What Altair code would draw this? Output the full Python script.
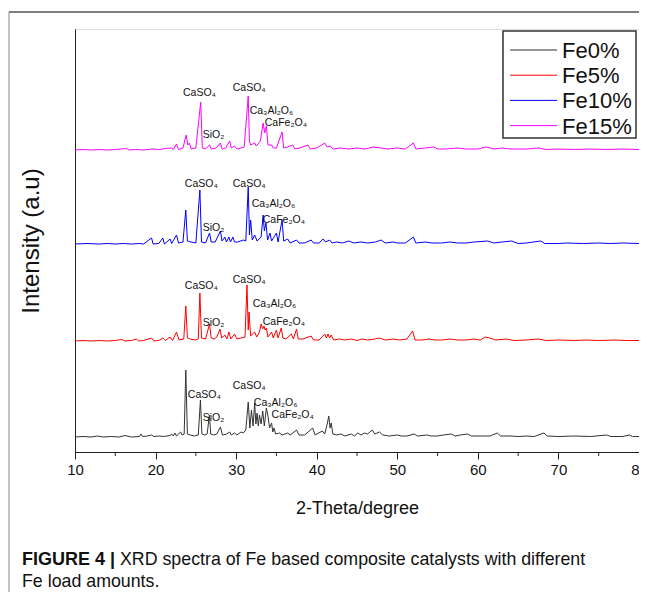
import altair as alt
import pandas as pd

# ---------------- data ----------------
series_names = ["Fe0%", "Fe5%", "Fe10%", "Fe15%"]
series_colors = ["#333333", "#ff0000", "#0000ff", "#ff00ff"]
offsets = [14, 110, 207, 301]

fe0_x = [10.0, 11, 12, 12.8, 13.5, 14.5, 15.5, 16.2, 17, 18.0, 18.2, 18.4, 19.0, 19.5, 19.8, 20.5, 21.0, 21.8, 22.0, 22.2,
         22.4, 22.6, 23.1, 23.3, 23.55, 23.75, 23.95, 24.3, 24.8, 25.3, 25.57, 25.75, 26.1, 26.4, 26.68, 26.85, 27.2, 27.6,
         28.05, 28.3, 28.8, 29.2, 29.4, 29.8, 30.1, 30.6, 30.9, 31.2, 31.5, 31.7, 31.9, 32.1, 32.3, 32.45, 32.6, 32.75, 32.9,
         33.1, 33.3, 33.5, 33.75, 33.95, 34.15, 34.4, 34.55, 34.7, 34.9, 35.4, 35.7, 36.4, 36.7, 37.5, 37.8, 38.5, 39.5, 39.8,
         40.7, 41.0, 41.3, 41.5, 41.65, 41.8, 42.0, 42.5, 43.0, 43.5, 44.3, 44.7, 45.1, 45.5, 45.9, 46.3, 46.9, 47.2, 47.8,
         48.2, 49.0, 50.0, 50.5, 51.2, 52.1, 52.5, 53.7, 54.2, 55.0, 55.7, 56.7, 57.2, 57.8, 58.7, 59.2, 60, 60.8, 61.5, 62.4,
         62.8, 64, 65, 66, 67, 68.2, 68.6, 70, 72, 74, 76.0, 76.5, 78, 78.8, 79.2, 80]
fe0_y = [1, 1.5, 1, 2, 1, 1.5, 1, 2.5, 1, 1.5, 4, 1.5, 2, 3, 1.5, 2, 1.5, 2.5, 4, 2,
         5, 2, 6, 3, 4, 68, 4, 3, 2, 3, 38, 4, 3, 4, 23, 4, 3, 4,
         11, 3, 4, 6, 3, 5, 3, 6, 5, 8, 36, 10, 28, 12, 35, 14, 25, 12, 23,
         14, 27, 12, 30, 22, 10, 15, 6, 10, 4, 5, 3, 5, 3, 8, 3, 3, 10, 3,
         7, 4, 14, 22, 10, 15, 4, 3, 4, 2, 4, 2, 5, 3, 5, 4, 8, 4, 6,
         3, 2, 3, 2, 2, 4, 2, 3, 2, 2, 3, 4, 2, 3, 4, 2, 2, 2, 2, 5,
         2, 2, 1.5, 2, 1.5, 5, 2, 1.5, 2, 1.5, 3, 1.5, 1.5, 3, 1.5, 1.5]

fe5_x = [10, 11, 12, 13, 14, 15, 15.8, 16.2, 17, 17.6, 17.9, 18.5, 19.5, 19.8, 20.4, 20.9, 21.2, 21.8, 22.1, 22.6, 22.9,
         23.5, 23.75, 23.95, 24.3, 24.9, 25.3, 25.5, 25.7, 26.2, 26.7, 26.9, 27.3, 27.6, 28.0, 28.2, 28.6, 28.85, 29.1,
         29.35, 29.8, 30.1, 30.6, 31.1, 31.35, 31.5, 31.6, 31.8, 32.3, 32.55, 32.9, 33.1, 33.3, 33.45, 33.6, 33.75, 33.95,
         34.4, 34.6, 35.0, 35.2, 35.6, 35.8, 36.2, 36.85, 37.1, 37.5, 37.7, 38.3, 39.3, 39.6, 40.3, 41.0, 41.2, 41.4, 41.6,
         41.8, 42.1, 42.8, 43.5, 44.3, 45, 45.6, 46.3, 47.2, 47.8, 48.5, 49.5, 50.3, 51.2, 51.9, 52.2, 53, 54, 54.6, 55.5,
         56.5, 57.5, 58.5, 59.5, 60.3, 60.9, 61.5, 62.2, 63.5, 64.5, 66, 67.5, 68.5, 70, 72, 73.5, 75, 77, 78.5, 80]
fe5_y = [1, 1.5, 1, 1.5, 1, 1.5, 2.5, 1, 1.5, 3, 1, 1.5, 4, 1, 1.5, 4, 1.5, 5, 1.5, 10, 2,
         3, 36, 4, 3, 2, 3, 49, 4, 3, 18, 4, 3, 5, 13, 4, 7, 3, 10,
         3, 8, 3, 4, 5, 57, 12, 30, 6, 10, 5, 10, 18, 13, 16, 12, 14, 5,
         10, 4, 12, 4, 14, 4, 3, 8, 3, 13, 3, 3, 6, 2, 2, 8, 4, 8, 4,
         7, 2, 3, 2, 3, 1.5, 3, 2, 3, 4, 2, 3, 2, 3, 11, 2, 2, 3, 2, 2,
         3, 2, 2, 3, 2, 5, 4, 2, 3, 1.5, 2, 3, 1.5, 2, 1.5, 2, 1.5, 2, 1.5, 1.5]

fe10_x = [10, 11.5, 13, 14, 15, 16, 17, 18, 18.5, 19.5, 19.7, 20.4, 20.9, 21.1, 21.8, 22.0, 22.6, 22.85, 23.4, 23.75, 23.95,
          24.4, 25.0, 25.5, 25.7, 26.2, 26.7, 26.9, 27.4, 28.05, 28.25, 28.6, 28.8, 29.1, 29.3, 29.6, 29.8, 30.2, 30.9, 31.2,
          31.5, 31.65, 31.8, 32.0, 32.3, 32.6, 33.1, 33.35, 33.5, 33.7, 33.9, 34.2, 34.4, 35.0, 35.2, 35.7, 35.9, 36.4, 36.7,
          37.5, 37.8, 38.5, 39.3, 39.6, 40.3, 40.8, 41.1, 41.6, 41.9, 42.5, 43.2, 44, 44.6, 45.5, 46.3, 47.3, 48.0, 48.5,
          49.5, 50.0, 51, 52.0, 52.3, 53.5, 54.3, 55.5, 56.5, 57.5, 58.5, 59.5, 61.2, 62, 63, 64.2, 65, 66, 67.8, 68.3, 70,
          71, 73, 75, 76.5, 78, 80]
fe10_y = [1, 1.5, 1, 1.5, 1, 1.5, 1, 1.5, 1, 7, 1, 1.5, 7, 1, 6, 1.5, 10, 2, 3, 35, 4,
          3, 2, 55, 3, 2, 12, 3, 3, 14, 4, 8, 3, 8, 3, 8, 3, 3, 5, 4,
          58, 10, 25, 5, 10, 4, 8, 30, 14, 22, 5, 12, 4, 12, 3, 25, 4, 6, 2,
          5, 2, 2, 5, 2, 2, 6, 3, 5, 2, 3, 2, 4, 2, 3, 2, 3, 5, 2,
          3, 2, 2, 8, 2, 3, 2, 2, 3, 2, 2, 3, 4, 2, 3, 4, 1.5, 2, 4, 1.5, 1.5,
          2, 1.5, 2, 1.5, 2, 1.5]

fe15_x = [10, 11, 12, 13, 14, 15, 16.4, 16.7, 17.5, 18.5, 19.5, 20.5, 21.2, 22.0, 22.2, 22.6, 22.85, 23.4, 23.8, 24.0,
          24.2, 24.4, 25.0, 25.6, 25.8, 26.2, 26.7, 26.9, 27.5, 28.05, 28.25, 28.7, 29.2, 29.4, 29.8, 30.1, 30.6, 31.0,
          31.5, 31.65, 31.8, 32.3, 32.5, 33.0, 33.35, 33.55, 33.75, 33.95, 34.4, 34.6, 35.0, 35.7, 35.9, 36.4, 37.0, 37.3,
          37.9, 38.9, 39.2, 40.0, 41.0, 41.3, 41.7, 42, 43, 44, 45, 46, 47, 48, 48.8, 50, 51, 52, 52.3, 53.5, 54.5, 55,
          56, 57.5, 58.5, 60, 61, 61.5, 62, 63, 64, 66, 67.5, 68.5, 70, 72, 74, 76, 78, 80]
fe15_y = [1, 1.5, 1, 1.5, 1, 1.5, 2.5, 1, 1.5, 1, 2, 1.5, 2.5, 3, 1.5, 7, 1.5, 3, 16, 6,
          8, 2, 3, 49, 3, 2, 6, 2, 3, 8, 2, 3, 10, 3, 5, 2, 3, 4,
          55, 10, 6, 8, 5, 10, 28, 18, 25, 6, 6, 3, 3, 19, 3, 4, 6, 2,
          3, 6, 2, 3, 8, 4, 5, 2, 3, 2, 3, 2, 4, 3, 2, 3, 2, 8, 2, 3, 4, 2,
          2, 3, 2, 2, 4, 3, 2, 3, 2, 2, 3, 1.5, 2, 1.5, 2, 1.5, 2, 1.5]

# peak annotations: label, 2-theta of left edge, vertical position (a.u.)
ann_text = ["CaSO₄", "SiO₂", "CaSO₄", "Ca₃Al₂O₆", "CaFe₂O₄"] * 4
ann_x = [23.4, 25.86, 29.58, 31.68, 33.55,
         23.63, 25.86, 29.58, 31.93, 33.3,
         23.63, 25.86, 29.58, 32.06, 33.3,
         24.0, 25.86, 29.58, 32.2, 34.4]
ann_y = [359, 317, 364, 341, 329,
         268, 224, 268, 248, 232,
         166, 129, 172, 148, 130,
         57, 34, 66, 49, 37]

major_ticks = [10, 20, 30, 40, 50, 60, 70, 80]
minor_ticks = [15, 25, 35, 45, 55, 65, 75]

x_title = "2-Theta/degree"
y_title = "Intensity (a.u)"
caption_bold = "FIGURE 4"
caption_bar = "|"
caption_line1 = "XRD spectra of Fe based composite catalysts with different"
caption_line2 = "Fe load amounts."

# ---------------- build table ----------------
xs = [fe0_x, fe5_x, fe10_x, fe15_x]
ys = [fe0_y, fe5_y, fe10_y, fe15_y]
rows = []
for name, off, sx, sy in zip(series_names, offsets, xs, ys):
    for a, b in zip(sx, sy):
        rows.append({"theta": a, "intensity": b + off, "series": name})
df = pd.DataFrame(rows)
ann = pd.DataFrame({"text": ann_text, "theta": ann_x, "pos": ann_y})
minor = pd.DataFrame({"t": minor_ticks})

W, H = 564, 423
PAD_L, PAD_T, PAD_R, PAD_B = 67, 21, 0, 140
SANS = "Liberation Sans"

xscale = alt.Scale(domain=[10, 80], nice=False, zero=False)
yscale = alt.Scale(domain=[0, 423], nice=False, zero=False)
cscale = alt.Scale(domain=series_names, range=series_colors)

lines = alt.Chart(df).mark_line(strokeWidth=1, clip=True).encode(
    x=alt.X("theta:Q", scale=xscale,
            axis=alt.Axis(values=major_ticks, title=x_title, grid=False, tickSize=7,
                          labelFontSize=15, labelFont=SANS, labelPadding=3, labelFlush=False,
                          titleFont=SANS, titleFontSize=18, titleFontWeight="normal",
                          titlePadding=22, domainColor="#222", tickColor="#222",
                          labelColor="#111", titleColor="#111", format="d")),
    y=alt.Y("intensity:Q", scale=yscale,
            axis=alt.Axis(title=y_title, labels=False, ticks=False, grid=False,
                          titleFont=SANS, titleFontSize=24, titleFontWeight="normal",
                          titlePadding=32, domainColor="#222", titleColor="#111")),
    color=alt.Color("series:N", scale=cscale, legend=None),
    detail="series:N",
    order="theta:Q",
)

labels = alt.Chart(ann).mark_text(align="left", baseline="middle", fontSize=10.5,
                                  font=SANS, color="#111").encode(
    x=alt.X("theta:Q", scale=xscale), y=alt.Y("pos:Q", scale=yscale), text="text:N")

minor_rules = alt.Chart(minor).mark_rule(color="#222", strokeWidth=1).encode(
    x=alt.X("t:Q", scale=xscale), y=alt.value(H), y2=alt.value(H + 4))

one = alt.Data(values=[{"a": 1}])

# legend drawn by hand (box, line samples, labels) from series_names / series_colors
legend_box = alt.Chart(one).mark_rect(fill="white", stroke="#333", strokeWidth=1.5).encode(
    x=alt.value(428), x2=alt.value(561), y=alt.value(2), y2=alt.value(109))
legend_layers = [legend_box]
for i, (nm, col) in enumerate(zip(series_names, series_colors)):
    yy = 21 + i * 25.2
    legend_layers.append(alt.Chart(one).mark_rule(color=col, strokeWidth=1).encode(
        x=alt.value(435), x2=alt.value(482), y=alt.value(yy)))
    legend_layers.append(alt.Chart(one).mark_text(align="left", baseline="middle", font=SANS,
                                                  fontSize=22, color="#111").encode(
        x=alt.value(487), y=alt.value(yy + 1), text=alt.value(nm)))

# figure frame (kept inside the canvas)
frame_left = alt.Chart(one).mark_rule(color="#c4c4c4", strokeWidth=2).encode(
    x=alt.value(-66), y=alt.value(-17), y2=alt.value(H + PAD_B))
frame_top = alt.Chart(one).mark_rule(color="#555555", strokeWidth=1.5).encode(
    x=alt.value(-66), x2=alt.value(W + PAD_R), y=alt.value(-17))

cap_b = alt.Chart(one).mark_text(align="left", baseline="alphabetic", font=SANS, fontSize=18,
                                 fontWeight="bold", color="#111").encode(
    x=alt.value(-53), y=alt.value(536), text=alt.value(caption_bold))
cap_bar = alt.Chart(one).mark_text(align="left", baseline="alphabetic", font=SANS, fontSize=18,
                                   fontWeight="bold", color="#111").encode(
    x=alt.value(35), y=alt.value(536), text=alt.value(caption_bar))
cap_1 = alt.Chart(one).mark_text(align="left", baseline="alphabetic", font=SANS, fontSize=17.8,
                                 color="#111").encode(
    x=alt.value(45), y=alt.value(536), text=alt.value(caption_line1))
cap_2 = alt.Chart(one).mark_text(align="left", baseline="alphabetic", font=SANS, fontSize=17.8,
                                 color="#111").encode(
    x=alt.value(-53), y=alt.value(558), text=alt.value(caption_line2))

chart = alt.layer(frame_left, frame_top, lines, labels, minor_rules, *legend_layers,
                  cap_b, cap_bar, cap_1, cap_2).properties(
    width=W, height=H,
    autosize=alt.AutoSizeParams(type="none"),
    padding={"left": PAD_L, "top": PAD_T, "right": PAD_R, "bottom": PAD_B},
).configure_view(stroke="#222", strokeWidth=1.5).configure(background="white")

chart.save("out.html", embed_options={"renderer": "svg", "actions": False})
